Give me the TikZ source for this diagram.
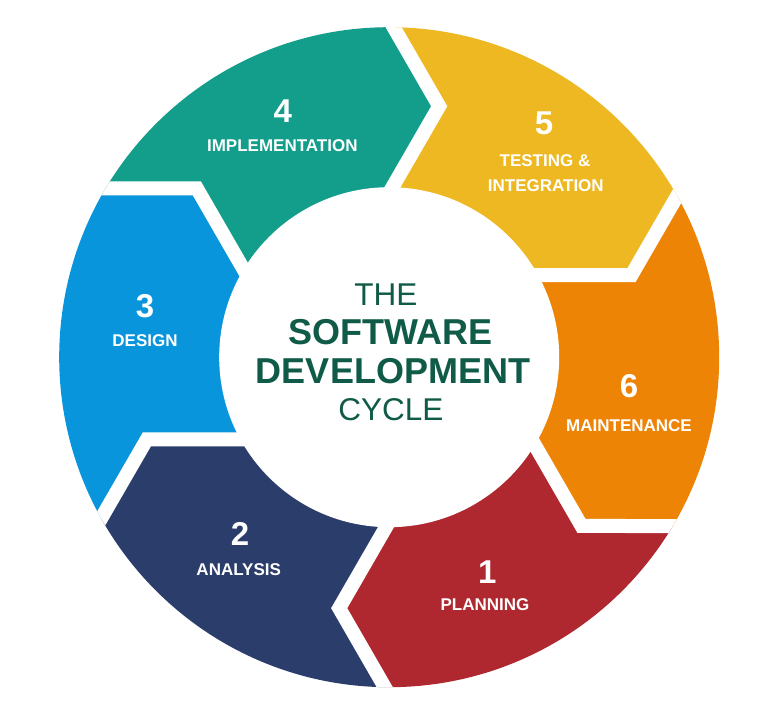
\documentclass[tikz,border=0pt]{standalone}
\usepackage{fontspec}
\setmainfont{Liberation Sans}
\definecolor{cteal}{HTML}{129E8A}
\definecolor{cyellow}{HTML}{EDB821}
\definecolor{corange}{HTML}{EE8406}
\definecolor{cred}{HTML}{B0282F}
\definecolor{cnavy}{HTML}{2B3D6A}
\definecolor{cblue}{HTML}{0995DC}
\definecolor{cgreen}{HTML}{0F5B47}
\tikzset{
  num/.style={text=white, font=\bfseries\fontsize{33}{36}\selectfont, inner sep=0pt},
  lbl/.style={text=white, font=\bfseries\fontsize{17}{20}\selectfont, inner sep=0pt},
  titlereg/.style={text=cgreen, font=\fontsize{31.5}{34}\selectfont, inner sep=0pt},
  titlebold/.style={text=cgreen, font=\bfseries\fontsize{36}{40}\selectfont, inner sep=0pt},
  gapline/.style={white, line width=14pt, line join=miter, miter limit=10},
  hub/.style={circle, fill=white, draw=none, minimum size=340pt, inner sep=0pt},
}
\begin{document}
\begin{tikzpicture}[x=1pt,y=1pt]
\useasboundingbox[fill=white] (-389.2,-367.8) rectangle (376.8,357.2);
\foreach \k in {0,...,6} {
  \coordinate (Eo\k) at ({91.61-60*\k}:355.1);
  \coordinate (V\k) at ({78.73-60*\k}:255.9);
  \coordinate (Ei\k) at ({93.89-60*\k}:147.4);
  \coordinate (F\k) at ({91.61-60*\k}:420);
  \coordinate (M\k) at ({61.61-60*\k}:420);
}
\begin{scope}
  \clip (0,0) circle (330);
  \foreach \k/\c in {0/cyellow,1/corange,2/cred,3/cnavy,4/cblue,5/cteal} {
    \pgfmathtruncatemacro{\n}{\k+1}
    \fill[\c] (Eo\k) -- (V\k) -- (Ei\k) -- (Ei\n) -- (V\n) -- (Eo\n) -- (F\n) -- (M\k) -- (F\k) -- cycle;
  }
  \foreach \k in {0,...,5} \draw[gapline] (Eo\k) -- (V\k) -- (Ei\k);
\end{scope}
\node[hub] (center) at (0,0) {};

\node[num] (n4) at (-106.5,246.2) {4};
\node[lbl] (l4) at (-106.9,212) {IMPLEMENTATION};
\node[num] (n5) at (154.8,233.9) {5};
\node[lbl] (l5a) at (155.8,196.4) {TESTING \&};
\node[lbl] (l5b) at (156.6,171.7) {INTEGRATION};
\node[num] (n6) at (239.8,-28.6) {6};
\node[lbl] (l6) at (239.8,-68.3) {MAINTENANCE};
\node[num] (n1) at (98,-214.8) {1};
\node[lbl] (l1) at (95.8,-247) {PLANNING};
\node[num] (n2) at (-149.2,-177) {2};
\node[lbl] (l2) at (-150.5,-212.3) {ANALYSIS};
\node[num] (n3) at (-244.2,51.4) {3};
\node[lbl] (l3) at (-244.2,16.4) {DESIGN};

\node[titlereg] (t1) at (-3.4,62.9) {THE};
\node[titlebold] (t2) at (0.8,24.7) {SOFTWARE};
\node[titlebold] (t3) at (3.8,-13.6) {DEVELOPMENT};
\node[titlereg] (t4) at (1.6,-52.8) {CYCLE};
\end{tikzpicture}
\end{document}
